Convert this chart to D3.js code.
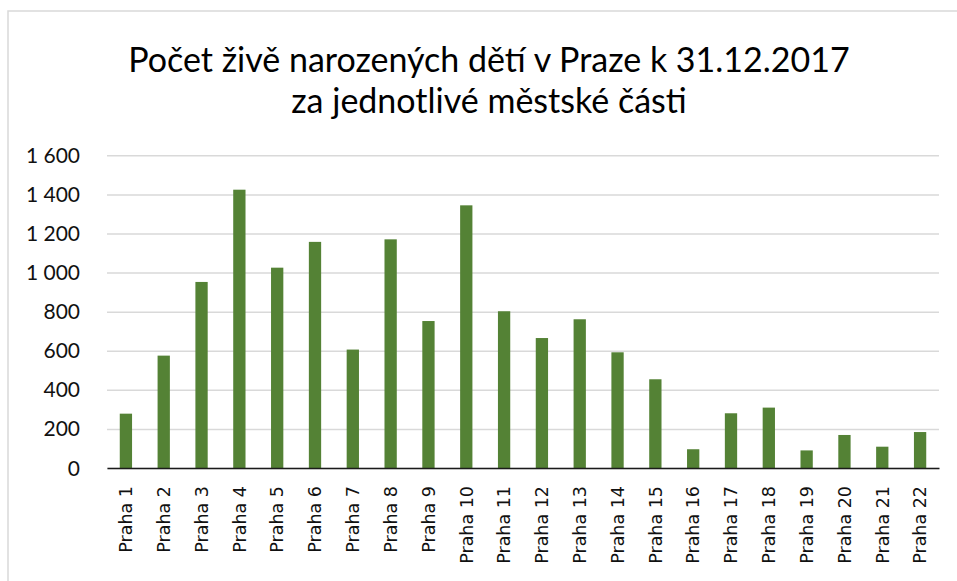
<!DOCTYPE html>
<html><head><meta charset="utf-8">
<script src="https://cdn.jsdelivr.net/npm/d3@7/dist/d3.min.js"></script>
<style>html,body{margin:0;padding:0;background:#fff;}svg{display:block;}</style>
</head><body>
<svg id="chart" width="957" height="581"></svg>
<script>
const titleLines = ["Počet živě narozených dětí v Praze k 31.12.2017", "za jednotlivé městské části"];
const categories = ["Praha 1","Praha 2","Praha 3","Praha 4","Praha 5","Praha 6","Praha 7","Praha 8","Praha 9","Praha 10","Praha 11","Praha 12","Praha 13","Praha 14","Praha 15","Praha 16","Praha 17","Praha 18","Praha 19","Praha 20","Praha 21","Praha 22"];
const births = [278,575,952,1424,1025,1157,606,1170,752,1344,802,665,761,592,454,96,280,309,90,169,109,184];
const yTicks = [0,200,400,600,800,1000,1200,1400,1600];
const yMax = 1600;

const svg = d3.select("#chart");
const plot = {left: 107, right: 939, top: 155.3, bottom: 468};

// outer chart border
svg.append("rect").attr("x", 8).attr("y", 11).attr("width", 960).attr("height", 600)
  .attr("fill", "none").attr("stroke", "#d9d9d9").attr("stroke-width", 1.5);

const x = d3.scaleBand().domain(categories).range([plot.left, plot.right])
  .paddingInner(0.675).paddingOuter(0.3375);
const y = d3.scaleLinear().domain([0, yMax]).range([plot.bottom, plot.top]);

// gridlines
const yAxisG = svg.append("g").attr("transform", `translate(${plot.left},0)`)
  .call(d3.axisLeft(y).tickValues(yTicks).tickSize(-(plot.right - plot.left)).tickFormat(""));
yAxisG.select(".domain").remove();
yAxisG.selectAll(".tick line").attr("stroke", "#d9d9d9").attr("stroke-width", 1.5);

// y labels
const fmt = v => d3.format(",")(v).replace(/,/g, " ");
svg.append("g").selectAll("text").data(yTicks).join("text")
  .attr("x", 80).attr("y", d => y(d)).attr("dy", "0.36em")
  .attr("text-anchor", "end")
  .attr("font-family", "Lato, 'Open Sans', sans-serif")
  .attr("font-size", 21).attr("fill", "#111")
  .text(d => fmt(d));

// bars
svg.append("g").selectAll("rect").data(births).join("rect")
  .attr("x", (d, i) => x(categories[i]))
  .attr("width", x.bandwidth())
  .attr("y", d => y(d))
  .attr("height", d => y(0) - y(d))
  .attr("fill", "#548235");

// x axis baseline
const xAxisG = svg.append("g").attr("transform", `translate(0,${plot.bottom})`)
  .call(d3.axisBottom(x).tickSize(0).tickFormat(""));
xAxisG.select(".domain").attr("stroke", "#1a1a1a").attr("stroke-width", 1.5);

// x labels
svg.append("g").selectAll("text").data(categories).join("text")
  .attr("transform", d => `translate(${x(d) + x.bandwidth() / 2},486) rotate(-90)`)
  .attr("dy", "0.36em")
  .attr("text-anchor", "end")
  .attr("font-family", "'DejaVu Sans', Verdana, sans-serif")
  .attr("font-size", 17.5).attr("fill", "#111")
  .text(d => d);

// title
const baselines = [72, 113];
titleLines.forEach((t, i) => {
  svg.append("text").attr("x", 489).attr("y", baselines[i])
    .attr("text-anchor", "middle")
    .attr("font-family", "Lato, 'Open Sans', sans-serif")
    .attr("font-size", 34).attr("fill", "#000")
    .text(t);
});
</script>
</body></html>
